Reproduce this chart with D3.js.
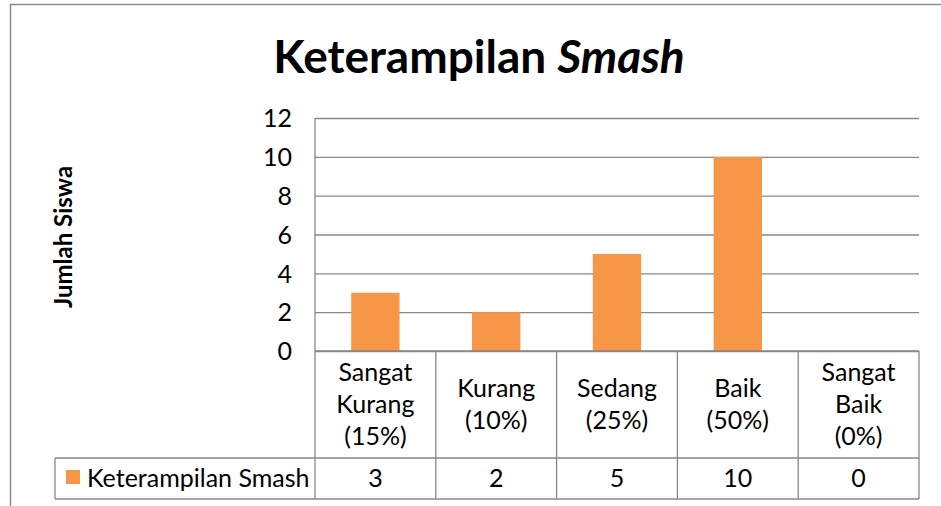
<!DOCTYPE html>
<html><head><meta charset="utf-8">
<script src="https://cdn.jsdelivr.net/npm/d3@7"></script>
<style>body{margin:0;background:#fff}svg{display:block}text{font-family:Lato,"Open Sans",sans-serif;fill:#000}</style>
</head><body>
<svg id="c" width="941" height="506"></svg>
<script>
const categories = [["Sangat","Kurang","(15%)"],["Kurang","(10%)"],["Sedang","(25%)"],["Baik","(50%)"],["Sangat","Baik","(0%)"]];
const values = [3, 2, 5, 10, 0];
const yTicks = [0, 2, 4, 6, 8, 10, 12];
const seriesName = "Keterampilan Smash";
const titleMain = "Keterampilan ";
const titleItalic = "Smash";
const yLabel = "Jumlah Siswa";

(function(){
const svg = d3.select("#c");
const W = 941, H = 506;
const pLeft = 315, pRight = 919, pTop = 118, pBottom = 351;
const tableMid = 458, tableBottom = 499, legendLeft = 55;
const grid = "#888888";
const fs = 25;

// outer border
svg.append("rect").attr("x",10.5).attr("y",4.5).attr("width",W+20).attr("height",H+20)
  .attr("fill","none").attr("stroke","#8c8c8c").attr("stroke-width",1.5);

const x = d3.scaleBand().domain(d3.range(categories.length)).range([pLeft,pRight]).paddingInner(0).paddingOuter(0);
const y = d3.scaleLinear().domain([0,12]).range([pBottom,pTop]);

// gridlines
const yAxis = d3.axisLeft(y).tickValues(yTicks).tickSize(-(pRight-pLeft)).tickFormat(d3.format("d")).tickPadding(23);
const gy = svg.append("g").attr("transform",`translate(${pLeft},0)`).call(yAxis);
gy.select(".domain").remove();
gy.selectAll(".tick line").attr("stroke",grid).attr("stroke-width",1.3);
gy.selectAll(".tick text").attr("font-size",fs).attr("dy","0.35em").attr("fill","#000").style("font-family",'Lato,sans-serif');

// bars
const bw = x.bandwidth()*0.4;
svg.append("g").selectAll("rect").data(values).join("rect")
  .attr("x",(d,i)=>x(i)+x.bandwidth()/2-bw/2)
  .attr("y",d=>y(d)).attr("width",bw).attr("height",d=>y(0)-y(d))
  .attr("fill","#F79646");

// axis line (left)
svg.append("line").attr("x1",pLeft).attr("x2",pLeft).attr("y1",pTop).attr("y2",tableBottom).attr("stroke",grid).attr("stroke-width",1.3);

// data table
const tg = svg.append("g").attr("stroke",grid).attr("stroke-width",1.3);
tg.append("line").attr("x1",pLeft).attr("x2",pRight).attr("y1",pBottom).attr("y2",pBottom);
tg.append("line").attr("x1",legendLeft).attr("x2",pRight).attr("y1",tableMid).attr("y2",tableMid);
tg.append("line").attr("x1",legendLeft).attr("x2",pRight).attr("y1",tableBottom).attr("y2",tableBottom);
tg.append("line").attr("x1",legendLeft).attr("x2",legendLeft).attr("y1",tableMid).attr("y2",tableBottom);
tg.selectAll("line.v").data(d3.range(1,categories.length+1)).join("line").attr("class","v")
  .attr("x1",i=>x(i-1)+x.bandwidth()).attr("x2",i=>x(i-1)+x.bandwidth())
  .attr("y1",pBottom).attr("y2",tableBottom);

// category labels
const lh = 32, midY = (pBottom+tableMid)/2;
categories.forEach((lines,i)=>{
  const t = svg.append("text").attr("text-anchor","middle").attr("font-size",fs)
    .attr("x",x(i)+x.bandwidth()/2);
  const y0 = midY - (lines.length-1)*lh/2;
  lines.forEach((s,k)=>t.append("tspan").attr("x",x(i)+x.bandwidth()/2).attr("y",y0+k*lh).attr("dy","0.35em").text(s));
});
// values
svg.append("g").selectAll("text").data(values).join("text")
  .attr("x",(d,i)=>x(i)+x.bandwidth()/2).attr("y",(tableMid+tableBottom)/2).attr("dy","0.35em")
  .attr("text-anchor","middle").attr("font-size",fs).text(d=>d);
// legend
svg.append("rect").attr("x",66).attr("y",470).attr("width",14).attr("height",14).attr("fill","#F79646");
svg.append("text").attr("x",87).attr("y",(tableMid+tableBottom)/2).attr("dy","0.35em").attr("font-size",fs).text(seriesName);

// title
const tt = svg.append("text").attr("x",479).attr("y",73).attr("text-anchor","middle").attr("font-size",46).attr("font-weight","bold");
tt.append("tspan").text(titleMain);
tt.append("tspan").attr("font-style","italic").text(titleItalic);

// y label
svg.append("text").attr("transform","translate(72,237) rotate(-90)").attr("text-anchor","middle")
  .attr("font-size",24).attr("font-weight","bold").text(yLabel);
})();
</script>
</body></html>
